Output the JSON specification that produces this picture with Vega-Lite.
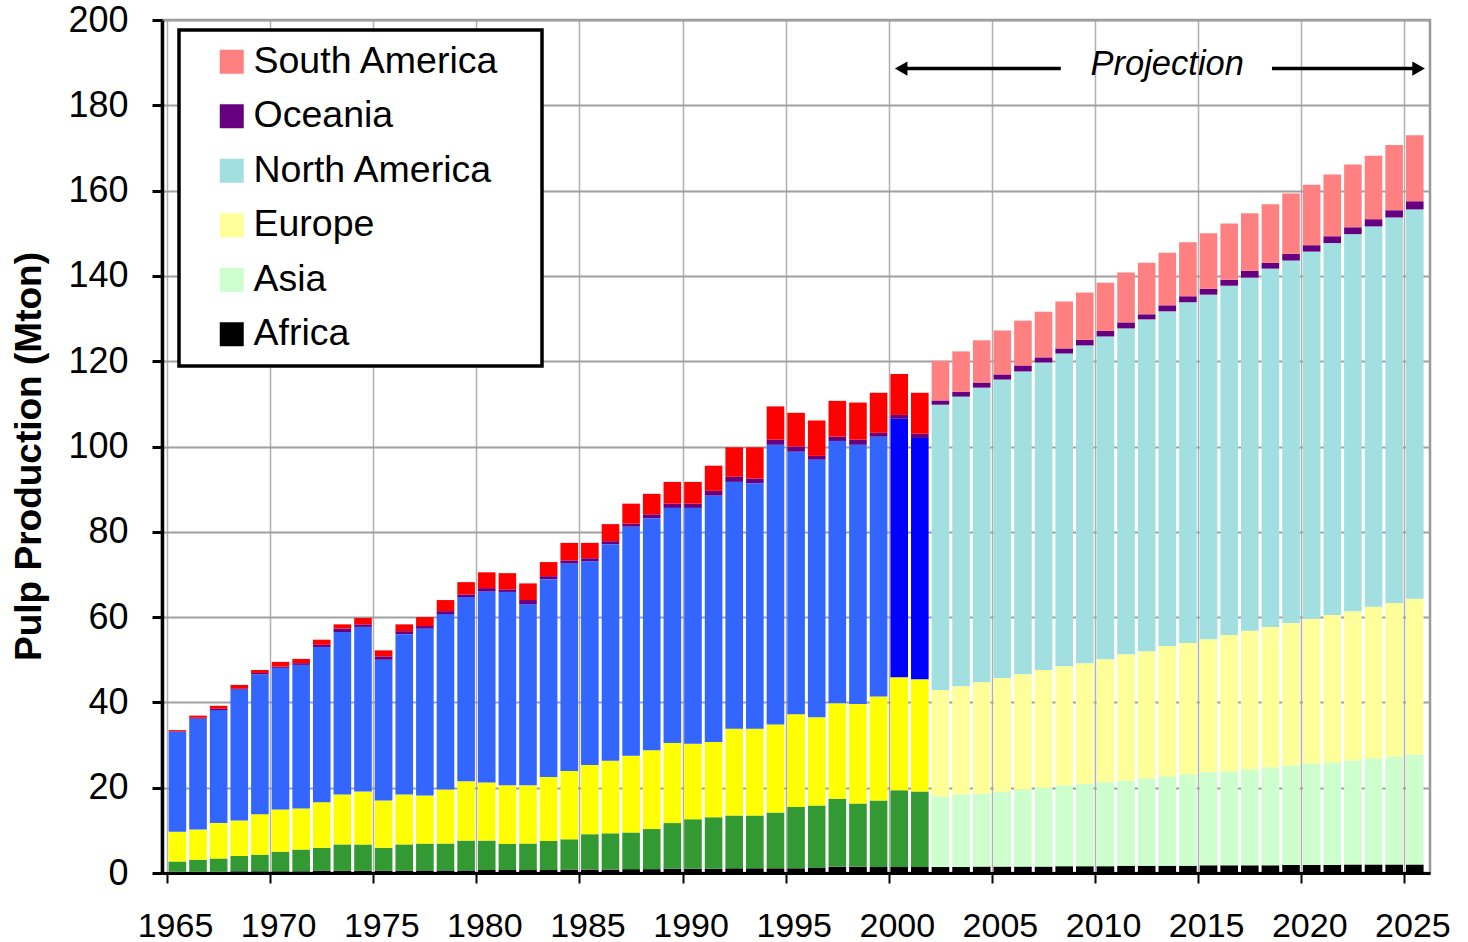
{
  "$schema": "https://vega.github.io/schema/vega-lite/v6.json",
  "width": 1268,
  "height": 853,
  "autosize": "none",
  "padding": {"left": 162, "top": 20, "right": 38, "bottom": 69},
  "background": "white",
  "config": {
    "font": "Liberation Sans",
    "view": {"stroke": "#999999", "strokeWidth": 2.5},
    "axis": {"labelColor": "black", "titleColor": "black"},
    "legend": {"strokeWidth": 3.5}
  },
  "datasets": {
    "pulp": [
      {"year": 1965, "Africa": 0.3, "Asia": 2.4, "Europe": 7.0, "North America": 23.4, "Oceania": 0.1, "South America": 0.3},
      {"year": 1966, "Africa": 0.3, "Asia": 2.8, "Europe": 7.1, "North America": 26.0, "Oceania": 0.2, "South America": 0.5},
      {"year": 1967, "Africa": 0.3, "Asia": 3.1, "Europe": 8.3, "North America": 26.5, "Oceania": 0.3, "South America": 0.7},
      {"year": 1968, "Africa": 0.4, "Asia": 3.6, "Europe": 8.3, "North America": 30.7, "Oceania": 0.3, "South America": 0.8},
      {"year": 1969, "Africa": 0.4, "Asia": 3.9, "Europe": 9.5, "North America": 32.8, "Oceania": 0.3, "South America": 0.7},
      {"year": 1970, "Africa": 0.4, "Asia": 4.6, "Europe": 9.9, "North America": 33.2, "Oceania": 0.3, "South America": 1.1},
      {"year": 1971, "Africa": 0.4, "Asia": 5.1, "Europe": 9.6, "North America": 33.7, "Oceania": 0.4, "South America": 1.0},
      {"year": 1972, "Africa": 0.5, "Asia": 5.4, "Europe": 10.7, "North America": 36.4, "Oceania": 0.5, "South America": 1.2},
      {"year": 1973, "Africa": 0.5, "Asia": 6.2, "Europe": 11.7, "North America": 38.1, "Oceania": 0.8, "South America": 1.0},
      {"year": 1974, "Africa": 0.5, "Asia": 6.2, "Europe": 12.4, "North America": 38.6, "Oceania": 0.6, "South America": 1.5},
      {"year": 1975, "Africa": 0.5, "Asia": 5.4, "Europe": 11.1, "North America": 33.0, "Oceania": 0.8, "South America": 1.4},
      {"year": 1976, "Africa": 0.5, "Asia": 6.2, "Europe": 11.7, "North America": 37.6, "Oceania": 0.7, "South America": 1.6},
      {"year": 1977, "Africa": 0.6, "Asia": 6.3, "Europe": 11.3, "North America": 39.1, "Oceania": 0.6, "South America": 2.1},
      {"year": 1978, "Africa": 0.6, "Asia": 6.3, "Europe": 12.7, "North America": 41.1, "Oceania": 0.7, "South America": 2.6},
      {"year": 1979, "Africa": 0.6, "Asia": 7.0, "Europe": 13.9, "North America": 43.2, "Oceania": 0.6, "South America": 2.9},
      {"year": 1980, "Africa": 0.7, "Asia": 6.9, "Europe": 13.6, "North America": 44.8, "Oceania": 0.8, "South America": 3.7},
      {"year": 1981, "Africa": 0.7, "Asia": 6.1, "Europe": 13.8, "North America": 45.3, "Oceania": 0.6, "South America": 3.8},
      {"year": 1982, "Africa": 0.7, "Asia": 6.2, "Europe": 13.7, "North America": 42.4, "Oceania": 1.0, "South America": 3.9},
      {"year": 1983, "Africa": 0.7, "Asia": 6.8, "Europe": 15.0, "North America": 46.4, "Oceania": 0.7, "South America": 3.3},
      {"year": 1984, "Africa": 0.8, "Asia": 7.1, "Europe": 16.0, "North America": 48.7, "Oceania": 0.7, "South America": 4.1},
      {"year": 1985, "Africa": 0.8, "Asia": 8.3, "Europe": 16.2, "North America": 47.8, "Oceania": 0.7, "South America": 3.6},
      {"year": 1986, "Africa": 0.8, "Asia": 8.5, "Europe": 17.0, "North America": 50.8, "Oceania": 0.7, "South America": 4.0},
      {"year": 1987, "Africa": 0.9, "Asia": 8.6, "Europe": 18.0, "North America": 53.7, "Oceania": 0.7, "South America": 4.7},
      {"year": 1988, "Africa": 0.9, "Asia": 9.4, "Europe": 18.5, "North America": 54.4, "Oceania": 0.9, "South America": 4.8},
      {"year": 1989, "Africa": 1.0, "Asia": 10.7, "Europe": 18.8, "North America": 55.1, "Oceania": 1.0, "South America": 5.1},
      {"year": 1990, "Africa": 1.0, "Asia": 11.6, "Europe": 17.7, "North America": 55.3, "Oceania": 1.0, "South America": 5.1},
      {"year": 1991, "Africa": 1.0, "Asia": 12.1, "Europe": 17.6, "North America": 57.8, "Oceania": 1.1, "South America": 5.9},
      {"year": 1992, "Africa": 1.1, "Asia": 12.4, "Europe": 20.3, "North America": 57.9, "Oceania": 1.2, "South America": 6.9},
      {"year": 1993, "Africa": 1.1, "Asia": 12.4, "Europe": 20.3, "North America": 57.6, "Oceania": 1.1, "South America": 7.3},
      {"year": 1994, "Africa": 1.1, "Asia": 13.1, "Europe": 20.6, "North America": 65.6, "Oceania": 1.2, "South America": 7.8},
      {"year": 1995, "Africa": 1.1, "Asia": 14.4, "Europe": 21.7, "North America": 61.6, "Oceania": 1.2, "South America": 7.9},
      {"year": 1996, "Africa": 1.3, "Asia": 14.5, "Europe": 20.7, "North America": 60.4, "Oceania": 0.9, "South America": 8.3},
      {"year": 1997, "Africa": 1.5, "Asia": 15.9, "Europe": 22.4, "North America": 61.5, "Oceania": 1.0, "South America": 8.4},
      {"year": 1998, "Africa": 1.5, "Asia": 14.8, "Europe": 23.3, "North America": 60.8, "Oceania": 1.2, "South America": 8.7},
      {"year": 1999, "Africa": 1.4, "Asia": 15.6, "Europe": 24.4, "North America": 60.9, "Oceania": 0.9, "South America": 9.4},
      {"year": 2000, "Africa": 1.4, "Asia": 18.0, "Europe": 26.5, "North America": 60.6, "Oceania": 0.9, "South America": 9.6},
      {"year": 2001, "Africa": 1.4, "Asia": 17.7, "Europe": 26.3, "North America": 56.6, "Oceania": 1.0, "South America": 9.6},
      {"year": 2002, "Africa": 1.4, "Asia": 16.6, "Europe": 24.9, "North America": 66.9, "Oceania": 1.0, "South America": 9.3},
      {"year": 2003, "Africa": 1.4, "Asia": 17.0, "Europe": 25.4, "North America": 67.9, "Oceania": 1.1, "South America": 9.5},
      {"year": 2004, "Africa": 1.5, "Asia": 17.1, "Europe": 26.1, "North America": 69.1, "Oceania": 1.2, "South America": 9.9},
      {"year": 2005, "Africa": 1.5, "Asia": 17.6, "Europe": 26.6, "North America": 70.0, "Oceania": 1.2, "South America": 10.3},
      {"year": 2006, "Africa": 1.5, "Asia": 18.1, "Europe": 27.0, "North America": 71.0, "Oceania": 1.4, "South America": 10.5},
      {"year": 2007, "Africa": 1.5, "Asia": 18.5, "Europe": 27.6, "North America": 72.1, "Oceania": 1.2, "South America": 10.7},
      {"year": 2008, "Africa": 1.6, "Asia": 18.9, "Europe": 28.0, "North America": 73.3, "Oceania": 1.2, "South America": 11.0},
      {"year": 2009, "Africa": 1.6, "Asia": 19.3, "Europe": 28.3, "North America": 74.5, "Oceania": 1.3, "South America": 11.1},
      {"year": 2010, "Africa": 1.6, "Asia": 19.7, "Europe": 28.8, "North America": 75.7, "Oceania": 1.3, "South America": 11.3},
      {"year": 2011, "Africa": 1.7, "Asia": 20.0, "Europe": 29.6, "North America": 76.4, "Oceania": 1.4, "South America": 11.7},
      {"year": 2012, "Africa": 1.7, "Asia": 20.5, "Europe": 29.8, "North America": 77.8, "Oceania": 1.2, "South America": 12.1},
      {"year": 2013, "Africa": 1.7, "Asia": 21.0, "Europe": 30.5, "North America": 78.5, "Oceania": 1.4, "South America": 12.3},
      {"year": 2014, "Africa": 1.7, "Asia": 21.4, "Europe": 30.8, "North America": 79.9, "Oceania": 1.4, "South America": 12.7},
      {"year": 2015, "Africa": 1.8, "Asia": 21.8, "Europe": 31.2, "North America": 80.8, "Oceania": 1.4, "South America": 13.0},
      {"year": 2016, "Africa": 1.8, "Asia": 22.0, "Europe": 32.0, "North America": 81.9, "Oceania": 1.4, "South America": 13.2},
      {"year": 2017, "Africa": 1.8, "Asia": 22.5, "Europe": 32.5, "North America": 82.8, "Oceania": 1.6, "South America": 13.5},
      {"year": 2018, "Africa": 1.8, "Asia": 23.0, "Europe": 32.9, "North America": 84.0, "Oceania": 1.4, "South America": 13.7},
      {"year": 2019, "Africa": 1.9, "Asia": 23.3, "Europe": 33.4, "North America": 85.0, "Oceania": 1.6, "South America": 14.1},
      {"year": 2020, "Africa": 1.9, "Asia": 23.8, "Europe": 33.9, "North America": 86.1, "Oceania": 1.5, "South America": 14.2},
      {"year": 2021, "Africa": 1.9, "Asia": 24.0, "Europe": 34.6, "North America": 87.2, "Oceania": 1.6, "South America": 14.5},
      {"year": 2022, "Africa": 2.0, "Asia": 24.4, "Europe": 35.0, "North America": 88.4, "Oceania": 1.6, "South America": 14.7},
      {"year": 2023, "Africa": 2.0, "Asia": 24.9, "Europe": 35.5, "North America": 89.2, "Oceania": 1.7, "South America": 14.9},
      {"year": 2024, "Africa": 2.0, "Asia": 25.3, "Europe": 36.0, "North America": 90.4, "Oceania": 1.7, "South America": 15.3},
      {"year": 2025, "Africa": 2.0, "Asia": 25.8, "Europe": 36.5, "North America": 91.3, "Oceania": 1.9, "South America": 15.5}
    ],
    "arrows": [
      {"from": 2008.34, "to": 2000.6, "level": 188.6, "dir": "left"},
      {"from": 2018.58, "to": 2025.69, "level": 188.6, "dir": "right"}
    ],
    "label": [
      {"at": 2013.5, "level": 187.1, "text": "Projection"}
    ]
  },
  "layer": [
    {
      "data": {"name": "pulp"},
      "transform": [
        {"fold": ["Africa", "Asia", "Europe", "North America", "Oceania", "South America"], "as": ["region", "value"]}
      ],
      "mark": {"type": "bar", "size": 17.6, "xOffset": 10.4},
      "encoding": {
        "x": {
          "field": "year", "type": "quantitative",
          "scale": {"domain": [1965, 2026], "nice": false, "zero": false},
          "axis": {
            "title": null,
            "values": [1965, 1970, 1975, 1980, 1985, 1990, 1995, 2000, 2005, 2010, 2015, 2020, 2025],
            "format": "d",
            "labelFontSize": 34, "labelPadding": 26, "labelOffset": 8, "labelFlush": false, "labelOverlap": false,
            "domainColor": "black", "domainWidth": 3,
            "tickColor": "black", "tickWidth": 2, "tickSize": 10,
            "grid": true, "gridColor": "#b0b0b0", "gridWidth": 1.5
          }
        },
        "y": {
          "field": "value", "type": "quantitative", "stack": "zero",
          "scale": {"domain": [0, 200], "nice": false},
          "axis": {
            "title": "Pulp Production (Mton)",
            "titleFontSize": 37, "titleFontWeight": "bold",
            "titleX": -122, "titleY": 436, "titleAngle": 270, "titleBaseline": "alphabetic", "titleAlign": "center",
            "values": [0, 20, 40, 60, 80, 100, 120, 140, 160, 180, 200],
            "labelFontSize": 36, "labelPadding": 24, "labelFlush": false,
            "domainColor": "black", "domainWidth": 3.5,
            "tickColor": "black", "tickWidth": 3, "tickSize": 10,
            "grid": true, "gridColor": "#a0a0a0", "gridWidth": 2
          }
        },
        "order": {"field": "region", "sort": "ascending"},
        "color": {
          "condition": [
            {"test": "datum.year < 2002 && datum.region === 'South America'", "value": "#FF0000"},
            {"test": "datum.year >= 2000 && datum.year < 2002 && datum.region === 'North America'", "value": "#0000FF"},
            {"test": "datum.year < 2000 && datum.region === 'North America'", "value": "#3366FF"},
            {"test": "datum.year < 2002 && datum.region === 'Europe'", "value": "#FFFF00"},
            {"test": "datum.year < 2002 && datum.region === 'Asia'", "value": "#339933"}
          ],
          "field": "region", "type": "nominal",
          "scale": {
            "domain": ["South America", "Oceania", "North America", "Europe", "Asia", "Africa"],
            "range": ["#FF8080", "#660080", "#A2DFE0", "#FFFF99", "#CCFFCC", "#000000"]
          },
          "legend": {
            "orient": "none", "legendX": 17, "legendY": 10, "direction": "vertical",
            "title": "\u00a0", "titleOrient": "right", "titlePadding": 30, "titleFontSize": 8,
            "symbolType": "square", "symbolSize": 576, "symbolStrokeWidth": 0, "symbolOpacity": 1,
            "symbolOffset": 21,
            "labelFontSize": 37.5, "labelColor": "black", "labelOffset": 3, "labelLimit": 400,
            "rowPadding": 15.5, "padding": 13,
            "strokeColor": "black", "fillColor": "white"
          }
        }
      }
    },
    {
      "data": {"name": "arrows"},
      "mark": {"type": "rule", "color": "black", "strokeWidth": 3.5},
      "encoding": {
        "x": {"field": "from", "type": "quantitative", "axis": {"title": null}},
        "x2": {"field": "to"},
        "y": {"field": "level", "type": "quantitative", "axis": {"title": "Pulp Production (Mton)"}}
      }
    },
    {
      "data": {"name": "arrows"},
      "mark": {"type": "point", "filled": true, "color": "black", "opacity": 1, "size": 210},
      "encoding": {
        "x": {"field": "to", "type": "quantitative", "axis": {"title": null}},
        "y": {"field": "level", "type": "quantitative", "axis": {"title": "Pulp Production (Mton)"}},
        "shape": {
          "field": "dir", "type": "nominal",
          "scale": {"domain": ["left", "right"], "range": ["triangle-left", "triangle-right"]},
          "legend": null
        }
      }
    },
    {
      "data": {"name": "label"},
      "mark": {"type": "text", "fontSize": 34.5, "fontStyle": "italic", "align": "center", "baseline": "alphabetic", "color": "black"},
      "encoding": {
        "x": {"field": "at", "type": "quantitative", "axis": {"title": null}},
        "y": {"field": "level", "type": "quantitative", "axis": {"title": "Pulp Production (Mton)"}},
        "text": {"field": "text"}
      }
    }
  ]
}
